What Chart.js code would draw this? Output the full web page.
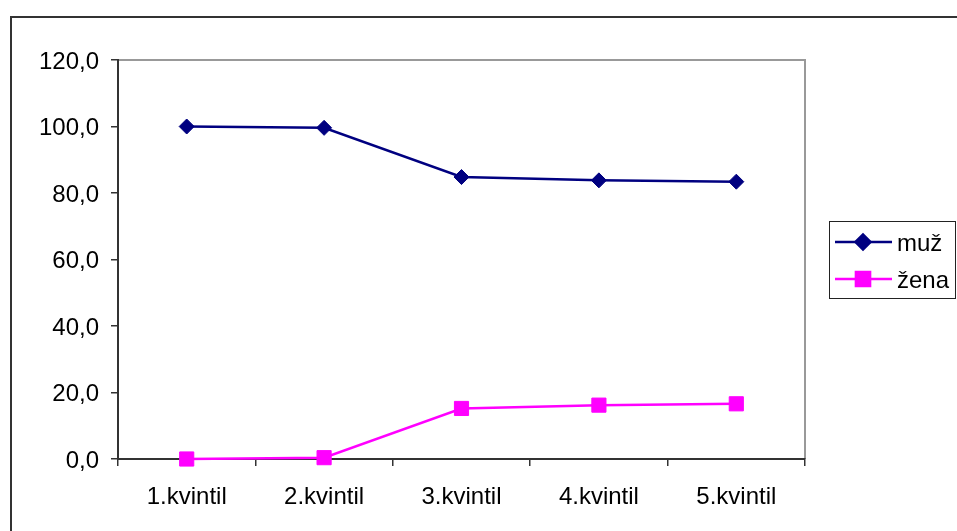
<!DOCTYPE html>
<html>
<head>
<meta charset="utf-8">
<script src="https://cdn.jsdelivr.net/npm/chart.js@4/dist/chart.umd.min.js"></script>
<style>
    body { margin: 0; background: #fff; }
    #wrap { width: 957px; height: 531px; }
</style>
</head>
<body>
<div id="wrap"><canvas id="chart" width="957" height="531"></canvas></div>
<script>
// Chart data
const categories = ['1.kvintil', '2.kvintil', '3.kvintil', '4.kvintil', '5.kvintil'];
const muzValues = [100.0, 99.6, 84.8, 83.8, 83.4];
const zenaValues = [0.0, 0.4, 15.2, 16.2, 16.6];
const seriesNames = ['muž', 'žena'];

const FONT = 'Liberation Sans, Arial, sans-serif';

// Outer frame + grey top/right plot border + legend box
const framePlugin = {
    id: 'frame',
    beforeDraw(chart) {
        const ctx = chart.ctx;
        ctx.save();
        ctx.fillStyle = '#fff';
        ctx.fillRect(0, 0, chart.width, chart.height);
        ctx.strokeStyle = '#333';
        ctx.lineWidth = 2;
        ctx.beginPath();
        ctx.moveTo(11, chart.height + 2);
        ctx.lineTo(11, 17);
        ctx.lineTo(chart.width + 2, 17);
        ctx.stroke();
        const a = chart.chartArea;
        ctx.strokeStyle = '#999';
        ctx.lineWidth = 2;
        ctx.beginPath();
        ctx.moveTo(a.left, a.top);
        ctx.lineTo(a.right, a.top);
        ctx.lineTo(a.right, a.bottom);
        ctx.stroke();
        ctx.restore();
    },
    afterDraw(chart) {
        const ctx = chart.ctx;
        ctx.save();
        ctx.strokeStyle = '#222';
        ctx.lineWidth = 1;
        ctx.strokeRect(829.5, 221.5, 126, 77);
        const rows = [242, 279];
        chart.data.datasets.forEach((ds, i) => {
            const y = rows[i];
            ctx.strokeStyle = ds.borderColor;
            ctx.lineWidth = 2.5;
            ctx.beginPath();
            ctx.moveTo(835, y);
            ctx.lineTo(892, y);
            ctx.stroke();
            Chart.helpers.drawPoint(ctx, {
                pointStyle: ds.pointStyle,
                radius: ds.pointRadius,
                borderWidth: 1
            }, 863, y);
            ctx.fillStyle = ds.borderColor;
            ctx.fill();
            ctx.fillStyle = '#000';
            ctx.font = '24px ' + FONT;
            ctx.textBaseline = 'middle';
            ctx.textAlign = 'left';
            ctx.fillText(ds.label, 897, y + 2);
        });
        ctx.restore();
    }
};

new Chart(document.getElementById('chart').getContext('2d'), {
    type: 'line',
    data: {
        labels: categories,
        datasets: [{
            label: seriesNames[0],
            data: muzValues,
            borderColor: '#000080',
            backgroundColor: '#000080',
            borderWidth: 2.5,
            pointStyle: 'rectRot',
            pointRadius: 7.5,
            pointBorderWidth: 1,
            tension: 0,
            clip: false
        }, {
            label: seriesNames[1],
            data: zenaValues,
            borderColor: '#ff00ff',
            backgroundColor: '#ff00ff',
            borderWidth: 2.5,
            pointStyle: 'rect',
            pointRadius: 10,
            pointBorderWidth: 1,
            tension: 0,
            clip: false
        }]
    },
    options: {
        responsive: false,
        devicePixelRatio: 1,
        animation: false,
        layout: {
            padding: { left: 12, top: 60, right: 152, bottom: 0 }
        },
        plugins: {
            legend: { display: false },
            tooltip: { enabled: false }
        },
        scales: {
            x: {
                offset: true,
                afterFit(scale) { scale.height = 72; },
                grid: {
                    offset: true,
                    drawOnChartArea: false,
                    drawTicks: true,
                    tickLength: 7,
                    color: '#333',
                    lineWidth: 1.5
                },
                border: { color: '#333', width: 2 },
                ticks: {
                    color: '#000',
                    padding: 17,
                    maxRotation: 0,
                    font: { family: FONT, size: 24 }
                }
            },
            y: {
                min: 0,
                max: 120,
                afterFit(scale) { scale.width = 106; },
                grid: {
                    drawOnChartArea: false,
                    drawTicks: true,
                    tickLength: 7,
                    color: '#333',
                    lineWidth: 1.5
                },
                border: { color: '#333', width: 2 },
                ticks: {
                    stepSize: 20,
                    color: '#000',
                    padding: 12,
                    labelOffset: 2,
                    font: { family: FONT, size: 24 },
                    callback: v => v.toFixed(1).replace('.', ',')
                }
            }
        }
    },
    plugins: [framePlugin]
});
</script>
</body>
</html>
